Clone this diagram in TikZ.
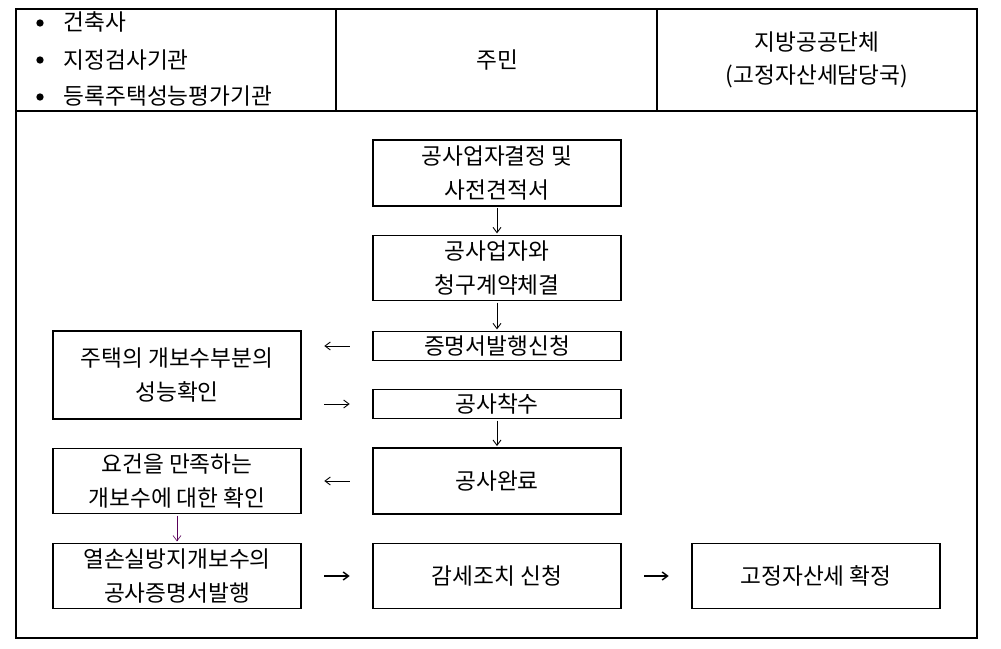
\documentclass[tikz,border=0pt]{standalone}
\usepackage{fontspec}
\setmainfont{Noto Sans CJK KR}
\usetikzlibrary{arrows.meta}

\begin{document}
\begin{tikzpicture}[x=0.75pt,y=-0.75pt,>/.tip={Straight Barb[length=4pt,width=6pt]},
  font=\fontsize{17}{25}\selectfont,
  box/.style={draw,line width=0.9pt,minimum width=186pt,inner sep=0pt,align=center},
  dot/.style={circle,fill,inner sep=0pt,minimum size=5.5pt},
  shortarrow/.style={->,line width=0.7pt,shorten <=17pt,shorten >=17pt}]
\useasboundingbox (0,0) rectangle (1001,649);

% table frame
\draw[line width=0.9pt] (16,9) rectangle (977,638);
\draw[line width=0.9pt] (16,111) -- (977,111);
\draw[line width=0.9pt] (336,9) -- (336,111);
\draw[line width=0.9pt] (657,9) -- (657,111);

% header
\draw (40,23) node (p1) [dot] {};
\draw (40,60) node (p2) [dot] {};
\draw (40,97) node (p3) [dot] {};
\draw (59,22) node (h1) [anchor=west] {건축사};
\draw (59,60) node (h2) [anchor=west] {지정검사기관};
\draw (59,96) node (h3) [anchor=west] {등록주택성능평가기관};
\draw (497,60) node (h4) {주민};
\draw (817,60) node (h5) [align=center] {지방공공단체\\(고정자산세담당국)};

% boxes
\draw (497,173) node (s1) [box,minimum height=49.5pt] {공사업자결정 및\\사전견적서};
\draw (497,268) node (s2) [box,minimum height=49pt] {공사업자와\\청구계약체결};
\draw (497,346) node (s3) [box,minimum height=22pt] {증명서발행신청};
\draw (497,404) node (s4) [box,minimum height=22pt] {공사착수};
\draw (497,481) node (s5) [box,minimum height=49.5pt] {공사완료};
\draw (497,576) node (s6) [box,minimum height=49pt] {감세조치 신청};
\draw (177,375) node (c1) [box,minimum height=66pt] {주택의 개보수부분의\\성능확인};
\draw (177,481) node (c2) [box,minimum height=49pt] {요건을 만족하는\\개보수에 대한 확인};
\draw (177,576) node (c3) [box,minimum height=49pt] {열손실방지개보수의\\공사증명서발행};
\draw (816,576) node (t1) [box,minimum height=49pt] {고정자산세 확정};

% connectors
\draw[->,line width=0.7pt,shorten <=1pt,shorten >=1pt] (s1) -- (s2);
\draw[->,line width=0.7pt,shorten <=1pt,shorten >=1pt] (s2) -- (s3);
\draw[->,line width=0.7pt,shorten <=1pt,shorten >=1pt] (s4) -- (s5);
\draw[shortarrow] (s3.west) -- (s3.west -| c1.east);
\draw[shortarrow] (s4.west -| c1.east) -- (s4.west);
\draw[shortarrow] (s5) -- (c2);
\draw[shortarrow,line width=1.1pt] (c3) -- (s6);
\draw[shortarrow,line width=1.1pt] (s6) -- (t1);
\draw[->,line width=0.5pt,color=violet!70!black,shorten <=1pt,shorten >=1pt] (c2) -- (c3);
\end{tikzpicture}
\end{document}
